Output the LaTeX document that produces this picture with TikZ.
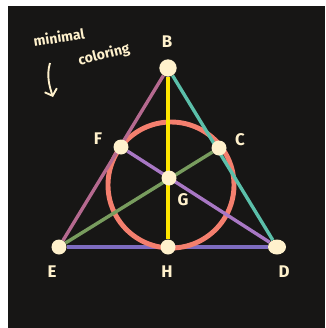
\documentclass[tikz,border=0pt]{standalone}
\usepackage{fontspec}
\setmainfont{Fira Sans}
\definecolor{bgdark}{HTML}{171615}
\definecolor{dotcream}{HTML}{FFF1CC}
\definecolor{lnmauve}{HTML}{B5698F}
\definecolor{lnteal}{HTML}{5BBFAA}
\definecolor{lnyellow}{HTML}{FFE600}
\definecolor{lngreen}{HTML}{789C5E}
\definecolor{lnpurple}{HTML}{A877C4}
\definecolor{lnviolet}{HTML}{7E6CC0}
\definecolor{lnsalmon}{HTML}{F47F6E}
\usetikzlibrary{arrows.meta,positioning,shapes.geometric}
\pgfdeclarelayer{backmost}
\pgfdeclarelayer{back}
\pgfsetlayers{backmost,back,main}

\begin{document}
\begin{tikzpicture}[x=0.03cm, y=-0.03cm,
    dot/.style={ellipse, fill=dotcream, inner sep=0pt, minimum size=0.45cm},
    lbl/.style={text=dotcream, font=\Large\bfseries},
    hand/.style={text=dotcream, font=\large\bfseries, inner sep=0pt},
    edge/.style={line width=2.9pt}
  ]
    \useasboundingbox (0,0) rectangle (325,328);

    \node[dot, minimum size=0.52cm] (b) at (168,68)  {};
    \node[dot] (f) at (121,147) {};
    \node[dot] (c) at (219,148) {};
    \node[dot] (g) at (169,178) {};
    \node[dot] (e) at (59,247)  {};
    \node[dot] (h) at (168,247) {};
    \node[dot, minimum width=0.54cm] (d) at (277,247) {};

    \begin{pgfonlayer}{backmost}
    \fill[bgdark] (8,6) rectangle (325,328);
    \end{pgfonlayer}

    \begin{pgfonlayer}{back}
    \draw[edge, lnviolet] (e) -- (d);
    % the incircle
    \draw[lnsalmon, line width=4.2pt] (171,185) circle [radius=63];
    \draw[edge, lnmauve]  (e) -- (b);
    \draw[edge, lnteal]   (b) -- (d);
    \draw[edge, lnyellow] (b) -- (h);
    \draw[edge, lngreen]  (e) -- (c);
    \draw[edge, lnpurple] (f) -- (d);
    \end{pgfonlayer}

    \node[lbl] (lb) at (167,42)  {B};
    \node[lbl] (lf) at (98,139)  {F};
    \node[lbl] (lc) at (240,140) {C};
    \node[lbl] (lg) at (183,200) {G};
    \node[lbl] (le) at (52,272)  {E};
    \node[lbl] (lh) at (167,272) {H};
    \node[lbl] (ld) at (284,272) {D};

    % note in the corner
    \node[hand, rotate=9] (nmin) at (59,37) {minimal};
    \node[hand, rotate=14] (ncol) at (104,55) {coloring};
    \coordinate (atop) at (50,63);
    \coordinate (abot) at (53,97);
    \draw[dotcream, line width=1.6pt, -{Straight Barb[length=5pt, width=11pt]}]
      (atop) .. controls (46,76) and (50,88) .. (abot);
\end{tikzpicture}
\end{document}
